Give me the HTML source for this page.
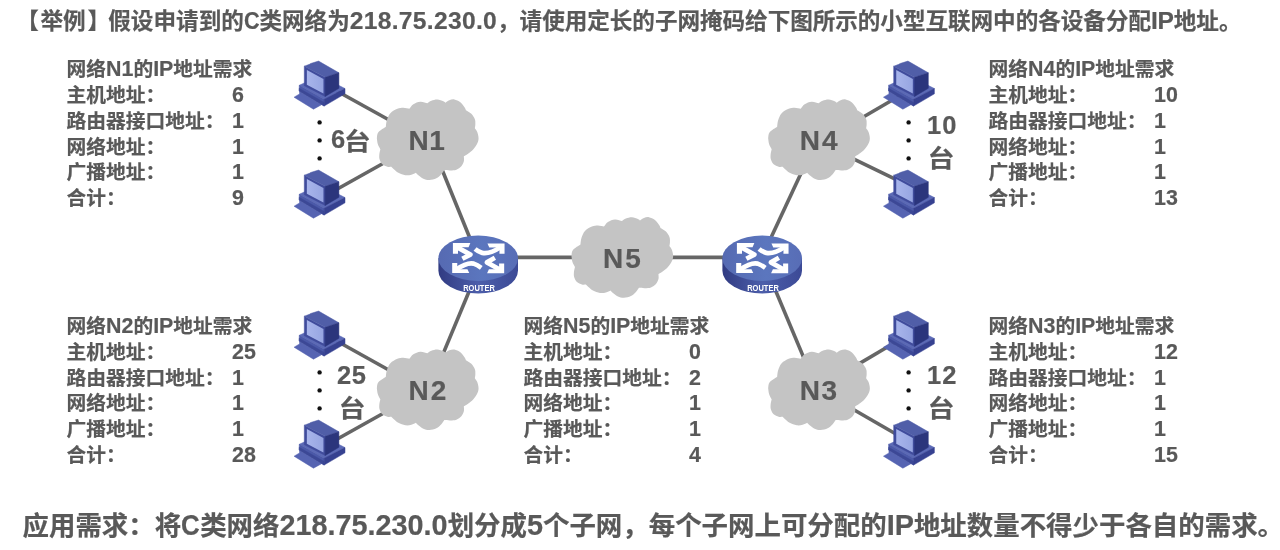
<!DOCTYPE html>
<html lang="zh-CN">
<head>
<meta charset="utf-8">
<title>定长子网掩码划分举例</title>
<style>
html,body{margin:0;padding:0;background:#fff;}
body{width:1280px;height:550px;position:relative;overflow:hidden;
  font-family:"Liberation Sans","Noto Sans CJK SC",sans-serif;font-weight:bold;color:#595959;will-change:transform;-webkit-text-stroke:0.2px #595959;}
.t{position:absolute;white-space:nowrap;margin:0;}
.l{line-height:1px;}
.bk{position:relative;}
#title{left:17.9px;top:6.5px;font-size:22.6px;line-height:30px;height:30px;}
#title .l{font-size:24.6px;letter-spacing:0.3px;}
#foot{left:22.5px;top:508.7px;font-size:26.45px;line-height:34px;height:34px;}
#foot .l{font-size:28.8px;letter-spacing:0px;}
.c{display:inline-block;transform-origin:0 50%;}
.blk{position:absolute;margin:0;padding:0;font-size:19.75px;white-space:nowrap;width:190px;}
.blk ul{margin:0;padding:0;list-style:none;}
.blk li,.blk h3{position:relative;height:25.72px;line-height:25.72px;margin:0;padding:0;font-size:inherit;font-weight:bold;}
.blk .l{font-size:21.4px;letter-spacing:0px;}
.blk b{position:absolute;left:165.5px;top:0;font-weight:bold;font-size:21.4px;letter-spacing:0px;}

.blk h3{top:-0.5px;}
#b1{left:66.5px;top:57.5px;}
#b4{left:988.5px;top:57.5px;}
#b2{left:66.5px;top:314.1px;}
#b5{left:523.5px;top:314.1px;}
#b3{left:988.5px;top:314.1px;}
svg#net{position:absolute;left:0;top:0;}
</style>
</head>
<body>
<h1 id="title" class="t"><span class="bk" style="left:-1.6px">【</span>举例<span class="bk" style="left:1.8px">】</span>假设申请到的<span class="l c" style="width:15.6px;transform:scaleX(0.88);">C</span>类网络为<span class="l">218.75.230.0</span>，<span style="letter-spacing:-0.045px">请使用定长的子网掩码给下图所示的小型互联网中的各设备分配<span class="l" style="letter-spacing:-0.2px;">IP</span>地址。</span></h1>
<section id="b1" class="blk">
<h3>网络<span class="l">N1</span>的<span class="l">IP</span>地址需求</h3>
<ul>
<li>主机地址：<b>6</b></li>
<li>路由器接口地址：<b>1</b></li>
<li>网络地址：<b>1</b></li>
<li>广播地址：<b>1</b></li>
<li>合计：<b>9</b></li>
</ul>
</section>
<section id="b4" class="blk">
<h3>网络<span class="l">N4</span>的<span class="l">IP</span>地址需求</h3>
<ul>
<li>主机地址：<b>10</b></li>
<li>路由器接口地址：<b>1</b></li>
<li>网络地址：<b>1</b></li>
<li>广播地址：<b>1</b></li>
<li>合计：<b>13</b></li>
</ul>
</section>
<svg id="net" width="1280" height="550" viewBox="0 0 1280 550">
<defs>
<linearGradient id="scr" x1="0" y1="0" x2="1" y2="0"><stop offset="0" stop-color="#a8b5eb"/><stop offset="1" stop-color="#96a5e1"/></linearGradient>
<linearGradient id="rtop" x1="0" y1="0" x2="1" y2="0"><stop offset="0" stop-color="#566ab2"/><stop offset="0.55" stop-color="#5b76be"/><stop offset="1" stop-color="#586db6"/></linearGradient>
<linearGradient id="rside" x1="0" y1="0" x2="1" y2="0"><stop offset="0" stop-color="#313b82"/><stop offset="0.5" stop-color="#4c5eaa"/><stop offset="1" stop-color="#3c4a96"/></linearGradient>
</defs>
<style>.nl{font:bold 28px "Liberation Sans","Noto Sans CJK SC",sans-serif;fill:#595959;letter-spacing:0.6px;stroke:#595959;stroke-width:0.2px}.rt{font:bold 9.3px "Liberation Sans",sans-serif;fill:#fff}.cnt{font:bold 25.5px "Liberation Sans","Noto Sans CJK SC",sans-serif;fill:#595959;stroke:#595959;stroke-width:0.2px}.cj{font-size:23.4px}</style>
<g stroke="#666666" stroke-width="3.6" fill="none" stroke-linecap="butt">
<line x1="330" y1="87.2" x2="400" y2="126"/>
<line x1="328" y1="194.3" x2="395" y2="156.7"/>
<line x1="436" y1="154.8" x2="475" y2="250.8"/>
<line x1="500" y1="257.4" x2="600" y2="257.4"/>
<line x1="650" y1="257.4" x2="740" y2="257.4"/>
<line x1="765" y1="250.6" x2="807" y2="160.6"/>
<line x1="850" y1="124.7" x2="898" y2="96.8"/>
<line x1="840" y1="152.3" x2="905" y2="183.8"/>
<line x1="475" y1="277.2" x2="437" y2="368.4"/>
<line x1="330" y1="337.2" x2="400" y2="376.3"/>
<line x1="328" y1="444.3" x2="395" y2="406.7"/>
<line x1="770" y1="277.3" x2="808" y2="367.9"/>
<line x1="850" y1="369.1" x2="895" y2="342.5"/>
<line x1="840" y1="401.7" x2="905" y2="439.3"/>
</g>
<g class="cloud"><path transform="translate(427.7,139.7)" d="M-50.85,-1.5C-50.6,-2.5 -50.85,-5.58 -49.35,-7.5C-47.85,-9.42 -43.1,-12.08 -41.85,-13C-41.68,-14.08 -41.6,-17.25 -40.85,-19.5C-40.1,-21.75 -39.1,-24.58 -37.35,-26.5C-35.6,-28.42 -32.52,-30.08 -30.35,-31C-28.18,-31.92 -26.35,-32 -24.35,-32C-22.35,-32 -19.35,-31.17 -18.35,-31C-17.68,-31.75 -16.18,-34.33 -14.35,-35.5C-12.52,-36.67 -9.68,-37.83 -7.35,-38C-5.02,-38.17 -1.52,-36.75 -0.35,-36.5C0.32,-36.92 1.98,-38.37 3.65,-39C5.32,-39.63 7.65,-40.38 9.65,-40.3C11.65,-40.22 14.32,-39.05 15.65,-38.5C16.98,-37.95 17.32,-37.25 17.65,-37C18.32,-37.42 20.15,-38.95 21.65,-39.5C23.15,-40.05 24.82,-40.63 26.65,-40.3C28.48,-39.97 30.9,-38.88 32.65,-37.5C34.4,-36.12 36.23,-33.33 37.15,-32C38.07,-30.67 37.98,-29.92 38.15,-29.5C39.07,-28.92 42.15,-27.5 43.65,-26C45.15,-24.5 46.48,-22.25 47.15,-20.5C47.82,-18.75 47.65,-17 47.65,-15.5C47.65,-14 47.23,-12.17 47.15,-11.5C47.57,-10.83 49.03,-9.17 49.65,-7.5C50.27,-5.83 50.85,-3.33 50.85,-1.5C50.85,0.33 50.52,1.67 49.65,3.5C48.78,5.33 47.32,7.67 45.65,9.5C43.98,11.33 41.23,13.33 39.65,14.5C38.07,15.67 36.73,16.17 36.15,16.5C36.15,17.33 36.57,19.83 36.15,21.5C35.73,23.17 34.9,25.08 33.65,26.5C32.4,27.92 30.48,29.3 28.65,30C26.82,30.7 24.65,30.65 22.65,30.7C20.65,30.75 17.65,30.37 16.65,30.3C16.15,31 14.98,33.13 13.65,34.5C12.32,35.87 10.65,37.53 8.65,38.5C6.65,39.47 3.82,40.22 1.65,40.3C-0.52,40.38 -2.52,39.8 -4.35,39C-6.18,38.2 -8.1,36.5 -9.35,35.5C-10.6,34.5 -11.43,33.42 -11.85,33C-12.6,33.33 -14.6,34.58 -16.35,35C-18.1,35.42 -20.18,35.83 -22.35,35.5C-24.52,35.17 -27.43,34 -29.35,33C-31.27,32 -32.68,30.5 -33.85,29.5C-35.02,28.5 -35.93,27.42 -36.35,27C-37.02,27 -38.85,27.42 -40.35,27C-41.85,26.58 -44.05,25.75 -45.35,24.5C-46.65,23.25 -47.65,21.17 -48.15,19.5C-48.65,17.83 -48.48,16.17 -48.35,14.5C-48.22,12.83 -47.52,10.33 -47.35,9.5C-47.77,8.67 -49.27,6.33 -49.85,4.5C-50.43,2.67 -50.68,-0.5 -50.85,-1.5Z" fill="#c4c4c4"/><text x="408.5" y="150.2" class="nl">N1</text></g>
<g class="cloud"><path transform="translate(819,139.7)" d="M-50.85,-1.5C-50.6,-2.5 -50.85,-5.58 -49.35,-7.5C-47.85,-9.42 -43.1,-12.08 -41.85,-13C-41.68,-14.08 -41.6,-17.25 -40.85,-19.5C-40.1,-21.75 -39.1,-24.58 -37.35,-26.5C-35.6,-28.42 -32.52,-30.08 -30.35,-31C-28.18,-31.92 -26.35,-32 -24.35,-32C-22.35,-32 -19.35,-31.17 -18.35,-31C-17.68,-31.75 -16.18,-34.33 -14.35,-35.5C-12.52,-36.67 -9.68,-37.83 -7.35,-38C-5.02,-38.17 -1.52,-36.75 -0.35,-36.5C0.32,-36.92 1.98,-38.37 3.65,-39C5.32,-39.63 7.65,-40.38 9.65,-40.3C11.65,-40.22 14.32,-39.05 15.65,-38.5C16.98,-37.95 17.32,-37.25 17.65,-37C18.32,-37.42 20.15,-38.95 21.65,-39.5C23.15,-40.05 24.82,-40.63 26.65,-40.3C28.48,-39.97 30.9,-38.88 32.65,-37.5C34.4,-36.12 36.23,-33.33 37.15,-32C38.07,-30.67 37.98,-29.92 38.15,-29.5C39.07,-28.92 42.15,-27.5 43.65,-26C45.15,-24.5 46.48,-22.25 47.15,-20.5C47.82,-18.75 47.65,-17 47.65,-15.5C47.65,-14 47.23,-12.17 47.15,-11.5C47.57,-10.83 49.03,-9.17 49.65,-7.5C50.27,-5.83 50.85,-3.33 50.85,-1.5C50.85,0.33 50.52,1.67 49.65,3.5C48.78,5.33 47.32,7.67 45.65,9.5C43.98,11.33 41.23,13.33 39.65,14.5C38.07,15.67 36.73,16.17 36.15,16.5C36.15,17.33 36.57,19.83 36.15,21.5C35.73,23.17 34.9,25.08 33.65,26.5C32.4,27.92 30.48,29.3 28.65,30C26.82,30.7 24.65,30.65 22.65,30.7C20.65,30.75 17.65,30.37 16.65,30.3C16.15,31 14.98,33.13 13.65,34.5C12.32,35.87 10.65,37.53 8.65,38.5C6.65,39.47 3.82,40.22 1.65,40.3C-0.52,40.38 -2.52,39.8 -4.35,39C-6.18,38.2 -8.1,36.5 -9.35,35.5C-10.6,34.5 -11.43,33.42 -11.85,33C-12.6,33.33 -14.6,34.58 -16.35,35C-18.1,35.42 -20.18,35.83 -22.35,35.5C-24.52,35.17 -27.43,34 -29.35,33C-31.27,32 -32.68,30.5 -33.85,29.5C-35.02,28.5 -35.93,27.42 -36.35,27C-37.02,27 -38.85,27.42 -40.35,27C-41.85,26.58 -44.05,25.75 -45.35,24.5C-46.65,23.25 -47.65,21.17 -48.15,19.5C-48.65,17.83 -48.48,16.17 -48.35,14.5C-48.22,12.83 -47.52,10.33 -47.35,9.5C-47.77,8.67 -49.27,6.33 -49.85,4.5C-50.43,2.67 -50.68,-0.5 -50.85,-1.5Z" fill="#c4c4c4"/><text x="799.7" y="150.2" class="nl"><tspan style="letter-spacing:2.2px">N</tspan>4</text></g>
<g class="cloud"><path transform="translate(622.3,257.5)" d="M-50.85,-1.5C-50.6,-2.5 -50.85,-5.58 -49.35,-7.5C-47.85,-9.42 -43.1,-12.08 -41.85,-13C-41.68,-14.08 -41.6,-17.25 -40.85,-19.5C-40.1,-21.75 -39.1,-24.58 -37.35,-26.5C-35.6,-28.42 -32.52,-30.08 -30.35,-31C-28.18,-31.92 -26.35,-32 -24.35,-32C-22.35,-32 -19.35,-31.17 -18.35,-31C-17.68,-31.75 -16.18,-34.33 -14.35,-35.5C-12.52,-36.67 -9.68,-37.83 -7.35,-38C-5.02,-38.17 -1.52,-36.75 -0.35,-36.5C0.32,-36.92 1.98,-38.37 3.65,-39C5.32,-39.63 7.65,-40.38 9.65,-40.3C11.65,-40.22 14.32,-39.05 15.65,-38.5C16.98,-37.95 17.32,-37.25 17.65,-37C18.32,-37.42 20.15,-38.95 21.65,-39.5C23.15,-40.05 24.82,-40.63 26.65,-40.3C28.48,-39.97 30.9,-38.88 32.65,-37.5C34.4,-36.12 36.23,-33.33 37.15,-32C38.07,-30.67 37.98,-29.92 38.15,-29.5C39.07,-28.92 42.15,-27.5 43.65,-26C45.15,-24.5 46.48,-22.25 47.15,-20.5C47.82,-18.75 47.65,-17 47.65,-15.5C47.65,-14 47.23,-12.17 47.15,-11.5C47.57,-10.83 49.03,-9.17 49.65,-7.5C50.27,-5.83 50.85,-3.33 50.85,-1.5C50.85,0.33 50.52,1.67 49.65,3.5C48.78,5.33 47.32,7.67 45.65,9.5C43.98,11.33 41.23,13.33 39.65,14.5C38.07,15.67 36.73,16.17 36.15,16.5C36.15,17.33 36.57,19.83 36.15,21.5C35.73,23.17 34.9,25.08 33.65,26.5C32.4,27.92 30.48,29.3 28.65,30C26.82,30.7 24.65,30.65 22.65,30.7C20.65,30.75 17.65,30.37 16.65,30.3C16.15,31 14.98,33.13 13.65,34.5C12.32,35.87 10.65,37.53 8.65,38.5C6.65,39.47 3.82,40.22 1.65,40.3C-0.52,40.38 -2.52,39.8 -4.35,39C-6.18,38.2 -8.1,36.5 -9.35,35.5C-10.6,34.5 -11.43,33.42 -11.85,33C-12.6,33.33 -14.6,34.58 -16.35,35C-18.1,35.42 -20.18,35.83 -22.35,35.5C-24.52,35.17 -27.43,34 -29.35,33C-31.27,32 -32.68,30.5 -33.85,29.5C-35.02,28.5 -35.93,27.42 -36.35,27C-37.02,27 -38.85,27.42 -40.35,27C-41.85,26.58 -44.05,25.75 -45.35,24.5C-46.65,23.25 -47.65,21.17 -48.15,19.5C-48.65,17.83 -48.48,16.17 -48.35,14.5C-48.22,12.83 -47.52,10.33 -47.35,9.5C-47.77,8.67 -49.27,6.33 -49.85,4.5C-50.43,2.67 -50.68,-0.5 -50.85,-1.5Z" fill="#c4c4c4"/><text x="603.1" y="267.6" class="nl"><tspan style="letter-spacing:1.8px">N</tspan>5</text></g>
<g class="cloud"><path transform="translate(427.7,389.8)" d="M-50.85,-1.5C-50.6,-2.5 -50.85,-5.58 -49.35,-7.5C-47.85,-9.42 -43.1,-12.08 -41.85,-13C-41.68,-14.08 -41.6,-17.25 -40.85,-19.5C-40.1,-21.75 -39.1,-24.58 -37.35,-26.5C-35.6,-28.42 -32.52,-30.08 -30.35,-31C-28.18,-31.92 -26.35,-32 -24.35,-32C-22.35,-32 -19.35,-31.17 -18.35,-31C-17.68,-31.75 -16.18,-34.33 -14.35,-35.5C-12.52,-36.67 -9.68,-37.83 -7.35,-38C-5.02,-38.17 -1.52,-36.75 -0.35,-36.5C0.32,-36.92 1.98,-38.37 3.65,-39C5.32,-39.63 7.65,-40.38 9.65,-40.3C11.65,-40.22 14.32,-39.05 15.65,-38.5C16.98,-37.95 17.32,-37.25 17.65,-37C18.32,-37.42 20.15,-38.95 21.65,-39.5C23.15,-40.05 24.82,-40.63 26.65,-40.3C28.48,-39.97 30.9,-38.88 32.65,-37.5C34.4,-36.12 36.23,-33.33 37.15,-32C38.07,-30.67 37.98,-29.92 38.15,-29.5C39.07,-28.92 42.15,-27.5 43.65,-26C45.15,-24.5 46.48,-22.25 47.15,-20.5C47.82,-18.75 47.65,-17 47.65,-15.5C47.65,-14 47.23,-12.17 47.15,-11.5C47.57,-10.83 49.03,-9.17 49.65,-7.5C50.27,-5.83 50.85,-3.33 50.85,-1.5C50.85,0.33 50.52,1.67 49.65,3.5C48.78,5.33 47.32,7.67 45.65,9.5C43.98,11.33 41.23,13.33 39.65,14.5C38.07,15.67 36.73,16.17 36.15,16.5C36.15,17.33 36.57,19.83 36.15,21.5C35.73,23.17 34.9,25.08 33.65,26.5C32.4,27.92 30.48,29.3 28.65,30C26.82,30.7 24.65,30.65 22.65,30.7C20.65,30.75 17.65,30.37 16.65,30.3C16.15,31 14.98,33.13 13.65,34.5C12.32,35.87 10.65,37.53 8.65,38.5C6.65,39.47 3.82,40.22 1.65,40.3C-0.52,40.38 -2.52,39.8 -4.35,39C-6.18,38.2 -8.1,36.5 -9.35,35.5C-10.6,34.5 -11.43,33.42 -11.85,33C-12.6,33.33 -14.6,34.58 -16.35,35C-18.1,35.42 -20.18,35.83 -22.35,35.5C-24.52,35.17 -27.43,34 -29.35,33C-31.27,32 -32.68,30.5 -33.85,29.5C-35.02,28.5 -35.93,27.42 -36.35,27C-37.02,27 -38.85,27.42 -40.35,27C-41.85,26.58 -44.05,25.75 -45.35,24.5C-46.65,23.25 -47.65,21.17 -48.15,19.5C-48.65,17.83 -48.48,16.17 -48.35,14.5C-48.22,12.83 -47.52,10.33 -47.35,9.5C-47.77,8.67 -49.27,6.33 -49.85,4.5C-50.43,2.67 -50.68,-0.5 -50.85,-1.5Z" fill="#c4c4c4"/><text x="408.5" y="400.2" class="nl"><tspan style="letter-spacing:2px">N</tspan>2</text></g>
<g class="cloud"><path transform="translate(819,389.8)" d="M-50.85,-1.5C-50.6,-2.5 -50.85,-5.58 -49.35,-7.5C-47.85,-9.42 -43.1,-12.08 -41.85,-13C-41.68,-14.08 -41.6,-17.25 -40.85,-19.5C-40.1,-21.75 -39.1,-24.58 -37.35,-26.5C-35.6,-28.42 -32.52,-30.08 -30.35,-31C-28.18,-31.92 -26.35,-32 -24.35,-32C-22.35,-32 -19.35,-31.17 -18.35,-31C-17.68,-31.75 -16.18,-34.33 -14.35,-35.5C-12.52,-36.67 -9.68,-37.83 -7.35,-38C-5.02,-38.17 -1.52,-36.75 -0.35,-36.5C0.32,-36.92 1.98,-38.37 3.65,-39C5.32,-39.63 7.65,-40.38 9.65,-40.3C11.65,-40.22 14.32,-39.05 15.65,-38.5C16.98,-37.95 17.32,-37.25 17.65,-37C18.32,-37.42 20.15,-38.95 21.65,-39.5C23.15,-40.05 24.82,-40.63 26.65,-40.3C28.48,-39.97 30.9,-38.88 32.65,-37.5C34.4,-36.12 36.23,-33.33 37.15,-32C38.07,-30.67 37.98,-29.92 38.15,-29.5C39.07,-28.92 42.15,-27.5 43.65,-26C45.15,-24.5 46.48,-22.25 47.15,-20.5C47.82,-18.75 47.65,-17 47.65,-15.5C47.65,-14 47.23,-12.17 47.15,-11.5C47.57,-10.83 49.03,-9.17 49.65,-7.5C50.27,-5.83 50.85,-3.33 50.85,-1.5C50.85,0.33 50.52,1.67 49.65,3.5C48.78,5.33 47.32,7.67 45.65,9.5C43.98,11.33 41.23,13.33 39.65,14.5C38.07,15.67 36.73,16.17 36.15,16.5C36.15,17.33 36.57,19.83 36.15,21.5C35.73,23.17 34.9,25.08 33.65,26.5C32.4,27.92 30.48,29.3 28.65,30C26.82,30.7 24.65,30.65 22.65,30.7C20.65,30.75 17.65,30.37 16.65,30.3C16.15,31 14.98,33.13 13.65,34.5C12.32,35.87 10.65,37.53 8.65,38.5C6.65,39.47 3.82,40.22 1.65,40.3C-0.52,40.38 -2.52,39.8 -4.35,39C-6.18,38.2 -8.1,36.5 -9.35,35.5C-10.6,34.5 -11.43,33.42 -11.85,33C-12.6,33.33 -14.6,34.58 -16.35,35C-18.1,35.42 -20.18,35.83 -22.35,35.5C-24.52,35.17 -27.43,34 -29.35,33C-31.27,32 -32.68,30.5 -33.85,29.5C-35.02,28.5 -35.93,27.42 -36.35,27C-37.02,27 -38.85,27.42 -40.35,27C-41.85,26.58 -44.05,25.75 -45.35,24.5C-46.65,23.25 -47.65,21.17 -48.15,19.5C-48.65,17.83 -48.48,16.17 -48.35,14.5C-48.22,12.83 -47.52,10.33 -47.35,9.5C-47.77,8.67 -49.27,6.33 -49.85,4.5C-50.43,2.67 -50.68,-0.5 -50.85,-1.5Z" fill="#c4c4c4"/><text x="799.7" y="400.2" class="nl"><tspan style="letter-spacing:1.6px">N</tspan>3</text></g>
<g class="router" transform="translate(438.4,235.5)"><path d="M0,22.7 v12.6 a39.8,22.7 0 0 0 79.6,0 v-12.6 z" fill="url(#rside)"/><ellipse cx="39.8" cy="22.7" rx="39.8" ry="22.7" fill="url(#rtop)"/><polygon points="14.51,7.59 31.96,7.59 30.15,11.81 19.6,11.81 19.6,18.14 14.51,18.14" fill="#fff"/><polygon points="66.15,7.95 49.05,7.95 50.87,11.95 61.05,11.95 61.05,18.14 66.15,18.14" fill="#fff"/><polygon points="13.78,37.55 13.78,27.59 18.87,27.59 18.87,33.63 29.05,33.63 30.87,37.55" fill="#fff"/><polygon points="65.78,37.77 65.78,27.95 60.69,27.95 60.69,33.77 50.51,33.77 48.69,37.77" fill="#fff"/><path d="M18.51,11.59 L31.96,19.08 L23.96,23.23 " fill="none" stroke="#fff" stroke-width="4.7" stroke-linejoin="round" stroke-linecap="butt"/><path d="M62.15,11.59 Q51.24,18.86 43.96,17.41 Q39.6,15.95 36.69,13.41 " fill="none" stroke="#fff" stroke-width="4.7" stroke-linejoin="round" stroke-linecap="butt"/><path d="M17.78,34.14 Q28.69,26.5 35.24,28.1 Q38.87,29.41 42.87,32.32 " fill="none" stroke="#fff" stroke-width="4.7" stroke-linejoin="round" stroke-linecap="butt"/><path d="M62.15,34.5 L48.47,26.86 L56.47,22.28 " fill="none" stroke="#fff" stroke-width="4.7" stroke-linejoin="round" stroke-linecap="butt"/><text x="24.8" y="55.7" class="rt" textLength="31.6" lengthAdjust="spacingAndGlyphs">ROUTER</text></g>
<g class="router" transform="translate(722.4,235.5)"><path d="M0,22.7 v12.6 a39.8,22.7 0 0 0 79.6,0 v-12.6 z" fill="url(#rside)"/><ellipse cx="39.8" cy="22.7" rx="39.8" ry="22.7" fill="url(#rtop)"/><polygon points="14.51,7.59 31.96,7.59 30.15,11.81 19.6,11.81 19.6,18.14 14.51,18.14" fill="#fff"/><polygon points="66.15,7.95 49.05,7.95 50.87,11.95 61.05,11.95 61.05,18.14 66.15,18.14" fill="#fff"/><polygon points="13.78,37.55 13.78,27.59 18.87,27.59 18.87,33.63 29.05,33.63 30.87,37.55" fill="#fff"/><polygon points="65.78,37.77 65.78,27.95 60.69,27.95 60.69,33.77 50.51,33.77 48.69,37.77" fill="#fff"/><path d="M18.51,11.59 L31.96,19.08 L23.96,23.23 " fill="none" stroke="#fff" stroke-width="4.7" stroke-linejoin="round" stroke-linecap="butt"/><path d="M62.15,11.59 Q51.24,18.86 43.96,17.41 Q39.6,15.95 36.69,13.41 " fill="none" stroke="#fff" stroke-width="4.7" stroke-linejoin="round" stroke-linecap="butt"/><path d="M17.78,34.14 Q28.69,26.5 35.24,28.1 Q38.87,29.41 42.87,32.32 " fill="none" stroke="#fff" stroke-width="4.7" stroke-linejoin="round" stroke-linecap="butt"/><path d="M62.15,34.5 L48.47,26.86 L56.47,22.28 " fill="none" stroke="#fff" stroke-width="4.7" stroke-linejoin="round" stroke-linecap="butt"/><text x="24.8" y="55.7" class="rt" textLength="31.6" lengthAdjust="spacingAndGlyphs">ROUTER</text></g>
<g class="pc" transform="translate(293.6,61)"><polygon points="0.44,36.2 5.93,32.95 5.93,30.61 28.01,43.63 19.87,48.2" fill="#5664b2" stroke="#5664b2" stroke-width="0.5" stroke-linejoin="round"/><polygon points="5.62,24.3 26.48,14.84 51.4,27.55 30.55,38.23" fill="#5c6ab6" stroke="#5c6ab6" stroke-width="0.5" stroke-linejoin="round"/><polygon points="5.62,24.3 30.55,38.23 30.55,45.05 5.62,30.1" fill="#4b59a8" stroke="#4b59a8" stroke-width="0.5" stroke-linejoin="round"/><polygon points="5.62,27.35 30.55,41.49 30.55,45.05 5.62,30.1" fill="#3c4896" stroke="#3c4896" stroke-width="0.5" stroke-linejoin="round"/><polygon points="30.55,38.23 51.4,27.55 51.4,32.84 30.55,45.05" fill="#364190" stroke="#364190" stroke-width="0.5" stroke-linejoin="round"/><polygon points="10.71,5.17 31.57,16.36 31.57,35.49 10.71,24.7" fill="#404c9c" stroke="#404c9c" stroke-width="0.5" stroke-linejoin="round"/><polygon points="13.25,8.94 29.84,17.89 29.84,32.44 13.25,23.79" fill="url(#scr)"/><polygon points="10.71,5.17 15.8,3.34 17.02,2.53 24.95,0.09 45.3,11.79 36.35,14.74 31.57,16.36" fill="#505ea8" stroke="#505ea8" stroke-width="0.5" stroke-linejoin="round"/><polygon points="31.57,16.36 45.3,11.79 45.3,27.35 31.57,35.49" fill="#2b357c" stroke="#2b357c" stroke-width="0.5" stroke-linejoin="round"/></g>
<g class="pc" transform="translate(293.6,170)"><polygon points="0.44,36.2 5.93,32.95 5.93,30.61 28.01,43.63 19.87,48.2" fill="#5664b2" stroke="#5664b2" stroke-width="0.5" stroke-linejoin="round"/><polygon points="5.62,24.3 26.48,14.84 51.4,27.55 30.55,38.23" fill="#5c6ab6" stroke="#5c6ab6" stroke-width="0.5" stroke-linejoin="round"/><polygon points="5.62,24.3 30.55,38.23 30.55,45.05 5.62,30.1" fill="#4b59a8" stroke="#4b59a8" stroke-width="0.5" stroke-linejoin="round"/><polygon points="5.62,27.35 30.55,41.49 30.55,45.05 5.62,30.1" fill="#3c4896" stroke="#3c4896" stroke-width="0.5" stroke-linejoin="round"/><polygon points="30.55,38.23 51.4,27.55 51.4,32.84 30.55,45.05" fill="#364190" stroke="#364190" stroke-width="0.5" stroke-linejoin="round"/><polygon points="10.71,5.17 31.57,16.36 31.57,35.49 10.71,24.7" fill="#404c9c" stroke="#404c9c" stroke-width="0.5" stroke-linejoin="round"/><polygon points="13.25,8.94 29.84,17.89 29.84,32.44 13.25,23.79" fill="url(#scr)"/><polygon points="10.71,5.17 15.8,3.34 17.02,2.53 24.95,0.09 45.3,11.79 36.35,14.74 31.57,16.36" fill="#505ea8" stroke="#505ea8" stroke-width="0.5" stroke-linejoin="round"/><polygon points="31.57,16.36 45.3,11.79 45.3,27.35 31.57,35.49" fill="#2b357c" stroke="#2b357c" stroke-width="0.5" stroke-linejoin="round"/></g>
<g class="pc" transform="translate(883,61)"><polygon points="0.44,36.2 5.93,32.95 5.93,30.61 28.01,43.63 19.87,48.2" fill="#5664b2" stroke="#5664b2" stroke-width="0.5" stroke-linejoin="round"/><polygon points="5.62,24.3 26.48,14.84 51.4,27.55 30.55,38.23" fill="#5c6ab6" stroke="#5c6ab6" stroke-width="0.5" stroke-linejoin="round"/><polygon points="5.62,24.3 30.55,38.23 30.55,45.05 5.62,30.1" fill="#4b59a8" stroke="#4b59a8" stroke-width="0.5" stroke-linejoin="round"/><polygon points="5.62,27.35 30.55,41.49 30.55,45.05 5.62,30.1" fill="#3c4896" stroke="#3c4896" stroke-width="0.5" stroke-linejoin="round"/><polygon points="30.55,38.23 51.4,27.55 51.4,32.84 30.55,45.05" fill="#364190" stroke="#364190" stroke-width="0.5" stroke-linejoin="round"/><polygon points="10.71,5.17 31.57,16.36 31.57,35.49 10.71,24.7" fill="#404c9c" stroke="#404c9c" stroke-width="0.5" stroke-linejoin="round"/><polygon points="13.25,8.94 29.84,17.89 29.84,32.44 13.25,23.79" fill="url(#scr)"/><polygon points="10.71,5.17 15.8,3.34 17.02,2.53 24.95,0.09 45.3,11.79 36.35,14.74 31.57,16.36" fill="#505ea8" stroke="#505ea8" stroke-width="0.5" stroke-linejoin="round"/><polygon points="31.57,16.36 45.3,11.79 45.3,27.35 31.57,35.49" fill="#2b357c" stroke="#2b357c" stroke-width="0.5" stroke-linejoin="round"/></g>
<g class="pc" transform="translate(883,170)"><polygon points="0.44,36.2 5.93,32.95 5.93,30.61 28.01,43.63 19.87,48.2" fill="#5664b2" stroke="#5664b2" stroke-width="0.5" stroke-linejoin="round"/><polygon points="5.62,24.3 26.48,14.84 51.4,27.55 30.55,38.23" fill="#5c6ab6" stroke="#5c6ab6" stroke-width="0.5" stroke-linejoin="round"/><polygon points="5.62,24.3 30.55,38.23 30.55,45.05 5.62,30.1" fill="#4b59a8" stroke="#4b59a8" stroke-width="0.5" stroke-linejoin="round"/><polygon points="5.62,27.35 30.55,41.49 30.55,45.05 5.62,30.1" fill="#3c4896" stroke="#3c4896" stroke-width="0.5" stroke-linejoin="round"/><polygon points="30.55,38.23 51.4,27.55 51.4,32.84 30.55,45.05" fill="#364190" stroke="#364190" stroke-width="0.5" stroke-linejoin="round"/><polygon points="10.71,5.17 31.57,16.36 31.57,35.49 10.71,24.7" fill="#404c9c" stroke="#404c9c" stroke-width="0.5" stroke-linejoin="round"/><polygon points="13.25,8.94 29.84,17.89 29.84,32.44 13.25,23.79" fill="url(#scr)"/><polygon points="10.71,5.17 15.8,3.34 17.02,2.53 24.95,0.09 45.3,11.79 36.35,14.74 31.57,16.36" fill="#505ea8" stroke="#505ea8" stroke-width="0.5" stroke-linejoin="round"/><polygon points="31.57,16.36 45.3,11.79 45.3,27.35 31.57,35.49" fill="#2b357c" stroke="#2b357c" stroke-width="0.5" stroke-linejoin="round"/></g>
<g class="pc" transform="translate(293.6,311)"><polygon points="0.44,36.2 5.93,32.95 5.93,30.61 28.01,43.63 19.87,48.2" fill="#5664b2" stroke="#5664b2" stroke-width="0.5" stroke-linejoin="round"/><polygon points="5.62,24.3 26.48,14.84 51.4,27.55 30.55,38.23" fill="#5c6ab6" stroke="#5c6ab6" stroke-width="0.5" stroke-linejoin="round"/><polygon points="5.62,24.3 30.55,38.23 30.55,45.05 5.62,30.1" fill="#4b59a8" stroke="#4b59a8" stroke-width="0.5" stroke-linejoin="round"/><polygon points="5.62,27.35 30.55,41.49 30.55,45.05 5.62,30.1" fill="#3c4896" stroke="#3c4896" stroke-width="0.5" stroke-linejoin="round"/><polygon points="30.55,38.23 51.4,27.55 51.4,32.84 30.55,45.05" fill="#364190" stroke="#364190" stroke-width="0.5" stroke-linejoin="round"/><polygon points="10.71,5.17 31.57,16.36 31.57,35.49 10.71,24.7" fill="#404c9c" stroke="#404c9c" stroke-width="0.5" stroke-linejoin="round"/><polygon points="13.25,8.94 29.84,17.89 29.84,32.44 13.25,23.79" fill="url(#scr)"/><polygon points="10.71,5.17 15.8,3.34 17.02,2.53 24.95,0.09 45.3,11.79 36.35,14.74 31.57,16.36" fill="#505ea8" stroke="#505ea8" stroke-width="0.5" stroke-linejoin="round"/><polygon points="31.57,16.36 45.3,11.79 45.3,27.35 31.57,35.49" fill="#2b357c" stroke="#2b357c" stroke-width="0.5" stroke-linejoin="round"/></g>
<g class="pc" transform="translate(293.6,420)"><polygon points="0.44,36.2 5.93,32.95 5.93,30.61 28.01,43.63 19.87,48.2" fill="#5664b2" stroke="#5664b2" stroke-width="0.5" stroke-linejoin="round"/><polygon points="5.62,24.3 26.48,14.84 51.4,27.55 30.55,38.23" fill="#5c6ab6" stroke="#5c6ab6" stroke-width="0.5" stroke-linejoin="round"/><polygon points="5.62,24.3 30.55,38.23 30.55,45.05 5.62,30.1" fill="#4b59a8" stroke="#4b59a8" stroke-width="0.5" stroke-linejoin="round"/><polygon points="5.62,27.35 30.55,41.49 30.55,45.05 5.62,30.1" fill="#3c4896" stroke="#3c4896" stroke-width="0.5" stroke-linejoin="round"/><polygon points="30.55,38.23 51.4,27.55 51.4,32.84 30.55,45.05" fill="#364190" stroke="#364190" stroke-width="0.5" stroke-linejoin="round"/><polygon points="10.71,5.17 31.57,16.36 31.57,35.49 10.71,24.7" fill="#404c9c" stroke="#404c9c" stroke-width="0.5" stroke-linejoin="round"/><polygon points="13.25,8.94 29.84,17.89 29.84,32.44 13.25,23.79" fill="url(#scr)"/><polygon points="10.71,5.17 15.8,3.34 17.02,2.53 24.95,0.09 45.3,11.79 36.35,14.74 31.57,16.36" fill="#505ea8" stroke="#505ea8" stroke-width="0.5" stroke-linejoin="round"/><polygon points="31.57,16.36 45.3,11.79 45.3,27.35 31.57,35.49" fill="#2b357c" stroke="#2b357c" stroke-width="0.5" stroke-linejoin="round"/></g>
<g class="pc" transform="translate(883,311)"><polygon points="0.44,36.2 5.93,32.95 5.93,30.61 28.01,43.63 19.87,48.2" fill="#5664b2" stroke="#5664b2" stroke-width="0.5" stroke-linejoin="round"/><polygon points="5.62,24.3 26.48,14.84 51.4,27.55 30.55,38.23" fill="#5c6ab6" stroke="#5c6ab6" stroke-width="0.5" stroke-linejoin="round"/><polygon points="5.62,24.3 30.55,38.23 30.55,45.05 5.62,30.1" fill="#4b59a8" stroke="#4b59a8" stroke-width="0.5" stroke-linejoin="round"/><polygon points="5.62,27.35 30.55,41.49 30.55,45.05 5.62,30.1" fill="#3c4896" stroke="#3c4896" stroke-width="0.5" stroke-linejoin="round"/><polygon points="30.55,38.23 51.4,27.55 51.4,32.84 30.55,45.05" fill="#364190" stroke="#364190" stroke-width="0.5" stroke-linejoin="round"/><polygon points="10.71,5.17 31.57,16.36 31.57,35.49 10.71,24.7" fill="#404c9c" stroke="#404c9c" stroke-width="0.5" stroke-linejoin="round"/><polygon points="13.25,8.94 29.84,17.89 29.84,32.44 13.25,23.79" fill="url(#scr)"/><polygon points="10.71,5.17 15.8,3.34 17.02,2.53 24.95,0.09 45.3,11.79 36.35,14.74 31.57,16.36" fill="#505ea8" stroke="#505ea8" stroke-width="0.5" stroke-linejoin="round"/><polygon points="31.57,16.36 45.3,11.79 45.3,27.35 31.57,35.49" fill="#2b357c" stroke="#2b357c" stroke-width="0.5" stroke-linejoin="round"/></g>
<g class="pc" transform="translate(883,420)"><polygon points="0.44,36.2 5.93,32.95 5.93,30.61 28.01,43.63 19.87,48.2" fill="#5664b2" stroke="#5664b2" stroke-width="0.5" stroke-linejoin="round"/><polygon points="5.62,24.3 26.48,14.84 51.4,27.55 30.55,38.23" fill="#5c6ab6" stroke="#5c6ab6" stroke-width="0.5" stroke-linejoin="round"/><polygon points="5.62,24.3 30.55,38.23 30.55,45.05 5.62,30.1" fill="#4b59a8" stroke="#4b59a8" stroke-width="0.5" stroke-linejoin="round"/><polygon points="5.62,27.35 30.55,41.49 30.55,45.05 5.62,30.1" fill="#3c4896" stroke="#3c4896" stroke-width="0.5" stroke-linejoin="round"/><polygon points="30.55,38.23 51.4,27.55 51.4,32.84 30.55,45.05" fill="#364190" stroke="#364190" stroke-width="0.5" stroke-linejoin="round"/><polygon points="10.71,5.17 31.57,16.36 31.57,35.49 10.71,24.7" fill="#404c9c" stroke="#404c9c" stroke-width="0.5" stroke-linejoin="round"/><polygon points="13.25,8.94 29.84,17.89 29.84,32.44 13.25,23.79" fill="url(#scr)"/><polygon points="10.71,5.17 15.8,3.34 17.02,2.53 24.95,0.09 45.3,11.79 36.35,14.74 31.57,16.36" fill="#505ea8" stroke="#505ea8" stroke-width="0.5" stroke-linejoin="round"/><polygon points="31.57,16.36 45.3,11.79 45.3,27.35 31.57,35.49" fill="#2b357c" stroke="#2b357c" stroke-width="0.5" stroke-linejoin="round"/></g>
<g fill="#111111">
<circle cx="319.6" cy="122.4" r="2.2"/>
<circle cx="319.6" cy="140.4" r="2.2"/>
<circle cx="319.6" cy="158.4" r="2.2"/>
<circle cx="319.6" cy="372.4" r="2.2"/>
<circle cx="319.6" cy="390.4" r="2.2"/>
<circle cx="319.6" cy="408.4" r="2.2"/>
<circle cx="908.6" cy="122.4" r="2.2"/>
<circle cx="908.6" cy="140.4" r="2.2"/>
<circle cx="908.6" cy="158.4" r="2.2"/>
<circle cx="908.6" cy="372.4" r="2.2"/>
<circle cx="908.6" cy="390.4" r="2.2"/>
<circle cx="908.6" cy="408.4" r="2.2"/>
</g>
<g><text class="cnt" x="331" y="148.3">6</text><text class="cnt cj" text-anchor="middle" transform="translate(357.4,149.5) scale(1.14,1)">台</text></g>
<g><text class="cnt" x="927" y="133.6" style="letter-spacing:1px">10</text><text class="cnt cj" text-anchor="middle" transform="translate(941,166.5) scale(1.14,1)">台</text></g>
<g><text class="cnt" x="337" y="383.6" style="letter-spacing:0.5px">25</text><text class="cnt cj" text-anchor="middle" transform="translate(352,416.5) scale(1.14,1)">台</text></g>
<g><text class="cnt" x="927" y="383.6" style="letter-spacing:1px">12</text><text class="cnt cj" text-anchor="middle" transform="translate(941,416.5) scale(1.14,1)">台</text></g>
</svg>
<section id="b2" class="blk">
<h3>网络<span class="l">N2</span>的<span class="l">IP</span>地址需求</h3>
<ul>
<li>主机地址：<b>25</b></li>
<li>路由器接口地址：<b>1</b></li>
<li>网络地址：<b>1</b></li>
<li>广播地址：<b>1</b></li>
<li>合计：<b>28</b></li>
</ul>
</section>
<section id="b5" class="blk">
<h3>网络<span class="l">N5</span>的<span class="l">IP</span>地址需求</h3>
<ul>
<li>主机地址：<b>0</b></li>
<li>路由器接口地址：<b>2</b></li>
<li>网络地址：<b>1</b></li>
<li>广播地址：<b>1</b></li>
<li>合计：<b>4</b></li>
</ul>
</section>
<section id="b3" class="blk">
<h3>网络<span class="l">N3</span>的<span class="l">IP</span>地址需求</h3>
<ul>
<li>主机地址：<b>12</b></li>
<li>路由器接口地址：<b>1</b></li>
<li>网络地址：<b>1</b></li>
<li>广播地址：<b>1</b></li>
<li>合计：<b>15</b></li>
</ul>
</section>
<p id="foot" class="t">应用需求：将<span class="l c" style="width:19px;transform:scaleX(0.9);">C</span>类网络<span class="l">218.75.230.0</span>划分成<span class="l" style="">5</span>个子网，每个子网上可分配的<span class="l" style="">IP</span>地址数量不得少于各自的需求。</p>
</body>
</html>
